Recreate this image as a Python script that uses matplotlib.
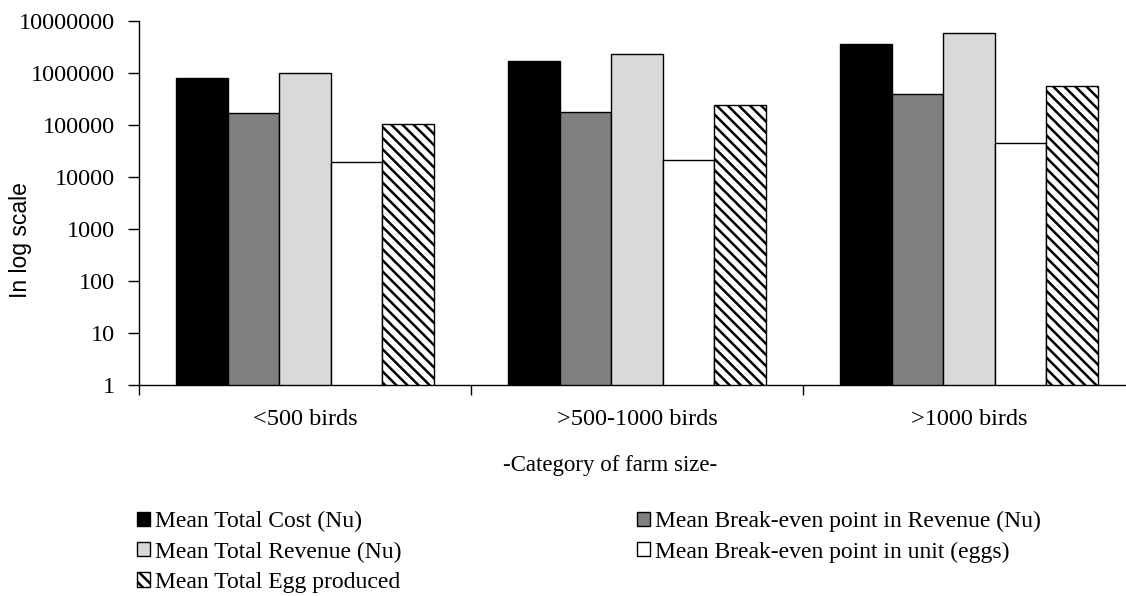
import numpy as np
import matplotlib
matplotlib.use("Agg")
import matplotlib.pyplot as plt
from matplotlib.ticker import FixedLocator, FuncFormatter, NullLocator

# Mean values per farm size category (log scale)
categorias = ['<500 birds', '>500-1000 birds', '>1000 birds']
costo_total = [800000, 1710000, 3670000]
equilibrio_ingreso = [167000, 180000, 386000]
ingreso_total = [1000000, 2330000, 5800000]
equilibrio_unidades = [19500, 21000, 45000]
huevos_total = [106000, 245000, 566000]

series = [
    ("Mean Total Cost (Nu)", costo_total, "#000000", None),
    ("Mean Break-even point in Revenue (Nu)", equilibrio_ingreso, "#808080", None),
    ("Mean Total Revenue (Nu)", ingreso_total, "#d9d9d9", None),
    ("Mean Break-even point in unit (eggs)", equilibrio_unidades, "#ffffff", None),
    ("Mean Total Egg produced", huevos_total, "#ffffff", "\\\\\\"),
]

plt.rcParams['font.family'] = ['Liberation Serif', 'DejaVu Serif']
plt.rcParams['hatch.linewidth'] = 1.8
plt.rcParams['hatch.color'] = 'black'

fig = plt.figure(figsize=(11.26, 5.96), dpi=100)
ax = fig.add_axes([139 / 1126, 211 / 596, 996 / 1126, 364 / 596])

x = np.arange(len(categorias))
ancho = 0.155
barras = []
for i, (nombre, valores, color, trama) in enumerate(series):
    b = ax.bar(x + (i - 2) * ancho, valores, ancho, color=color, edgecolor='black',
               linewidth=1.0, hatch=trama, label=nombre)
    barras.append(b)

ax.set_yscale('log')
ax.set_ylim(1, 1e7)
ax.set_xlim(-0.5, 2.5)
ax.yaxis.set_major_locator(FixedLocator([10 ** k for k in range(8)]))
ax.yaxis.set_minor_locator(NullLocator())
ax.yaxis.set_major_formatter(FuncFormatter(lambda v, p: f"{int(round(v))}"))

# category separators as major ticks, labels centred with minor ticks
ax.xaxis.set_major_locator(FixedLocator([-0.5, 0.5, 1.5, 2.5]))
ax.xaxis.set_major_formatter(FuncFormatter(lambda v, p: ""))
ax.xaxis.set_minor_locator(FixedLocator(x))
ax.set_xticklabels(categorias, minor=True)
ax.tick_params(axis='x', which='major', direction='out', length=7, width=1)
ax.tick_params(axis='x', which='minor', length=0, pad=17, labelsize=17.5)
ax.tick_params(axis='y', which='major', direction='out', length=8, width=1,
               pad=9, labelsize=17.5)

for lado in ['top', 'right']:
    ax.spines[lado].set_visible(False)
for lado in ['left', 'bottom']:
    ax.spines[lado].set_linewidth(1.0)
    ax.spines[lado].set_color('black')

fig.text(21 / 1126, 1 - 240 / 596, "In log scale", rotation=90, ha='center',
         va='center', fontsize=16.5, family=['Liberation Sans', 'DejaVu Sans'])
fig.text(610 / 1126, 1 - 466 / 596, "-Category of farm size-", ha='center',
         va='center', fontsize=16.5)

orden = [barras[0], barras[2], barras[4], barras[1], barras[3]]
fig.legend(handles=orden, labels=[b.get_label() for b in orden], ncol=2,
           loc='upper left', bbox_to_anchor=(137 / 1126, 1 - 511 / 596),
           frameon=False, fontsize=17, handlelength=0.55, handleheight=0.55,
           handletextpad=0.2, labelspacing=0.39, columnspacing=10.0,
           borderaxespad=0, borderpad=0)

fig.savefig("out.png", dpi=100)
